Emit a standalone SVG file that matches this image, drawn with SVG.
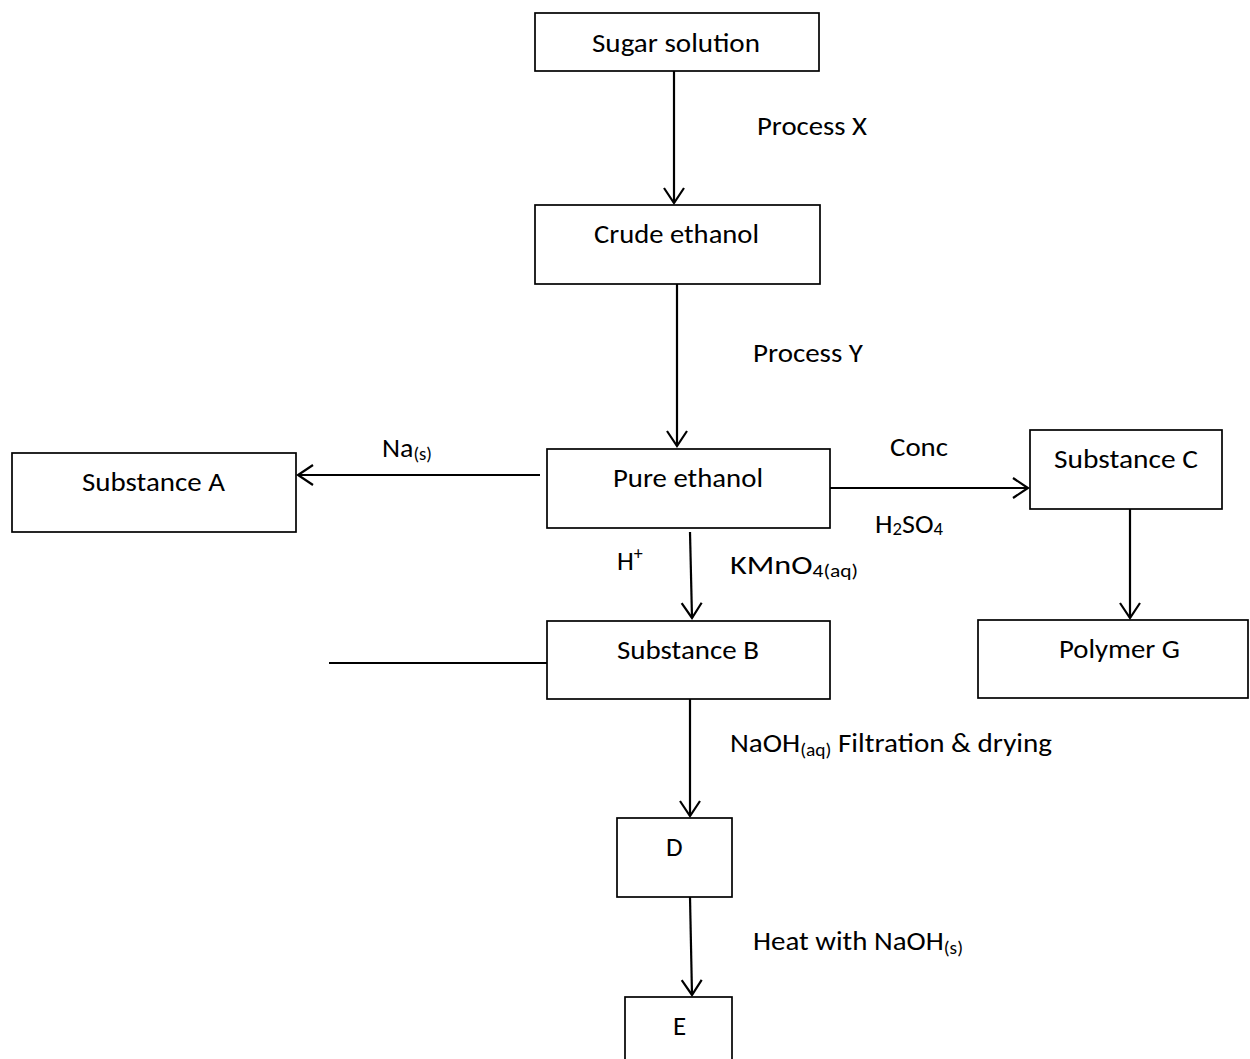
<svg xmlns="http://www.w3.org/2000/svg" width="1250" height="1059" viewBox="0 0 1250 1059">
<style>
.box{fill:#fff;stroke:#000;stroke-width:1.7}
.t{font-family:Carlito,Lato,"Open Sans",sans-serif;font-size:27px;fill:#000}
.sub{font-size:18px}
.c{fill:none;stroke:#000;stroke-width:2.2}
</style>
<defs>
<marker id="ah" markerUnits="userSpaceOnUse" markerWidth="20" markerHeight="24" viewBox="-16 -12 20 24" refX="0" refY="0" orient="auto">
<path d="M-15,-10 L0,0 L-15,10" fill="none" stroke="#000" stroke-width="2.2"/>
</marker>
</defs>
<rect width="1250" height="1059" fill="#fff"/>
<g id="connectors">
<line class="c" x1="674" y1="71" x2="674" y2="203" marker-end="url(#ah)"/>
<line class="c" x1="677" y1="284" x2="677" y2="446" marker-end="url(#ah)"/>
<line class="c" x1="540" y1="475" x2="298" y2="475" marker-end="url(#ah)"/>
<line class="c" x1="830" y1="488" x2="1028" y2="488" marker-end="url(#ah)"/>
<line class="c" x1="690" y1="532" x2="692" y2="618" marker-end="url(#ah)"/>
<line class="c" x1="329" y1="663" x2="547" y2="663"/>
<line class="c" x1="1130" y1="509" x2="1130" y2="618" marker-end="url(#ah)"/>
<line class="c" x1="690" y1="699" x2="690" y2="816" marker-end="url(#ah)"/>
<line class="c" x1="690" y1="897" x2="692" y2="995" marker-end="url(#ah)"/>
</g>
<g id="labels">
<text class="t" x="757" y="135" textLength="110" lengthAdjust="spacingAndGlyphs">Process X</text>
<text class="t" x="753" y="362" textLength="110" lengthAdjust="spacingAndGlyphs">Process Y</text>
<text class="t" x="382" y="457" textLength="50" lengthAdjust="spacingAndGlyphs">Na<tspan class="sub" dy="3">(s)</tspan></text>
<text class="t" x="890" y="456" textLength="58" lengthAdjust="spacingAndGlyphs">Conc</text>
<text class="t" x="875" y="533" textLength="68" lengthAdjust="spacingAndGlyphs">H<tspan class="sub" dy="2">2</tspan><tspan dy="-2">SO</tspan><tspan class="sub" dy="2">4</tspan></text>
<text class="t" x="617" y="570">H<tspan class="sub" dy="-10">+</tspan></text>
<text class="t" x="730" y="574" textLength="128" lengthAdjust="spacingAndGlyphs">KMnO<tspan class="sub" dy="3">4(aq)</tspan></text>
<text class="t" x="730" y="752" textLength="322" lengthAdjust="spacingAndGlyphs">NaOH<tspan class="sub" dy="4">(aq)</tspan><tspan dy="-4"> Filtration &amp; drying</tspan></text>
<text class="t" x="753" y="950" textLength="210" lengthAdjust="spacingAndGlyphs">Heat with NaOH<tspan class="sub" dy="4">(s)</tspan></text>
</g>
<g id="sugar">
<rect class="box" x="535" y="13" width="284" height="58"/>
<text class="t" x="592" y="52" textLength="168" lengthAdjust="spacingAndGlyphs">Sugar solution</text>
</g>
<g id="crude">
<rect class="box" x="535" y="205" width="285" height="79"/>
<text class="t" x="594" y="243" textLength="165" lengthAdjust="spacingAndGlyphs">Crude ethanol</text>
</g>
<g id="pure">
<rect class="box" x="547" y="449" width="283" height="79"/>
<text class="t" x="613" y="487" textLength="150" lengthAdjust="spacingAndGlyphs">Pure ethanol</text>
</g>
<g id="subA">
<rect class="box" x="12" y="453" width="284" height="79"/>
<text class="t" x="82" y="491" textLength="143" lengthAdjust="spacingAndGlyphs">Substance A</text>
</g>
<g id="subC">
<rect class="box" x="1030" y="430" width="192" height="79"/>
<text class="t" x="1054" y="468" textLength="144" lengthAdjust="spacingAndGlyphs">Substance C</text>
</g>
<g id="subB">
<rect class="box" x="547" y="621" width="283" height="78"/>
<text class="t" x="617" y="659" textLength="142" lengthAdjust="spacingAndGlyphs">Substance B</text>
</g>
<g id="polyG">
<rect class="box" x="978" y="620" width="270" height="78"/>
<text class="t" x="1059" y="658" textLength="121" lengthAdjust="spacingAndGlyphs">Polymer G</text>
</g>
<g id="D">
<rect class="box" x="617" y="818" width="115" height="79"/>
<text class="t" x="666" y="856">D</text>
</g>
<g id="E">
<rect class="box" x="625" y="997" width="107" height="75"/>
<text class="t" x="673" y="1035">E</text>
</g>
</svg>
